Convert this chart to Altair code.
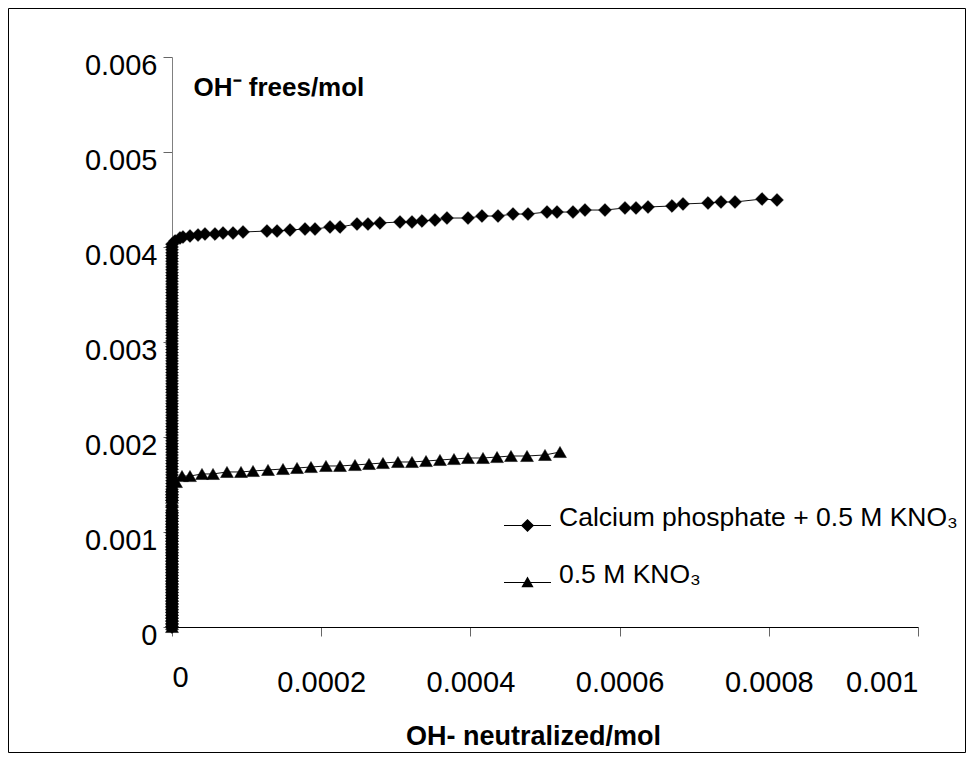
import altair as alt
import pandas as pd

S1 = "Calcium phosphate + 0.5 M KNO₃"
S2 = "0.5 M KNO₃"

# ---- Calcium phosphate + 0.5 M KNO3 (diamonds) ----
# dense vertical rise at x ~ 0 (y in units of 1e-5 mol)
cp_col_y_e5 = [0, 3, 6, 9, 12, 15, 18, 21, 24, 27, 30, 33, 36, 39, 42, 45, 48, 51,
               54, 57, 60, 63, 66, 69, 72, 75, 78, 81, 84, 87, 90, 93, 96, 99, 102,
               105, 108, 111, 114, 117, 120, 123, 126, 133, 136, 139, 142, 145, 148,
               151, 154, 157, 160, 163, 166, 169, 172, 175, 178, 181, 184, 187, 190,
               193, 196, 199, 202, 205, 208, 211, 214, 217, 220, 223, 226, 229, 232,
               235, 238, 241, 244, 247, 250, 253, 256, 259, 262, 265, 268, 271, 274,
               277, 280, 283, 286, 289, 292, 295, 298, 301, 304, 307, 310, 313, 316,
               319, 322, 325, 328, 331, 334, 337, 340, 343, 346, 349, 352, 355, 358,
               361, 364, 367, 370, 373, 376, 379, 382, 385, 388, 391, 394, 397, 400, 403]
# then the slowly increasing branch
cp_x = [0.0000040, 0.0000107, 0.0000147, 0.0000241, 0.0000349, 0.0000442, 0.0000576,
        0.0000684, 0.0000818, 0.0000952, 0.0001273, 0.0001408, 0.0001582, 0.0001783,
        0.0001917, 0.0002118, 0.0002252, 0.0002480, 0.0002627, 0.0002788, 0.0003056,
        0.0003217, 0.0003351, 0.0003525, 0.0003686, 0.0003968, 0.0004155, 0.0004370,
        0.0004571, 0.0004772, 0.0005027, 0.0005161, 0.0005375, 0.0005536, 0.0005804,
        0.0006072, 0.0006220, 0.0006381, 0.0006702, 0.0006850, 0.0007185, 0.0007359,
        0.0007547, 0.0007909, 0.0008110]
cp_y = [0.004063, 0.004095, 0.004105, 0.004116, 0.004126, 0.004137, 0.004137,
        0.004147, 0.004147, 0.004158, 0.004168, 0.004168, 0.004179, 0.004189,
        0.004189, 0.004211, 0.004211, 0.004242, 0.004242, 0.004253, 0.004263,
        0.004263, 0.004274, 0.004284, 0.004305, 0.004305, 0.004326, 0.004326,
        0.004347, 0.004347, 0.004368, 0.004368, 0.004368, 0.004389, 0.004389,
        0.004411, 0.004411, 0.004421, 0.004432, 0.004453, 0.004463, 0.004474,
        0.004474, 0.004505, 0.004495]

# ---- 0.5 M KNO3 (triangles) ----
kn_col_y_e5 = [0, 3, 6, 9, 12, 15, 18, 21, 24, 27, 30, 33, 36, 39, 42, 45, 48, 51,
               54, 57, 60, 63, 66, 69, 72, 75, 78, 81, 84, 87, 90, 93, 96, 99, 102,
               105, 108, 111, 114, 117, 120, 123, 126, 133, 136, 139, 142, 145, 148]
kn_x = [0.0000054, 0.0000134, 0.0000241, 0.0000402, 0.0000550, 0.0000737,
        0.0000925, 0.0001086, 0.0001287, 0.0001488, 0.0001676, 0.0001863,
        0.0002064, 0.0002252, 0.0002453, 0.0002641, 0.0002828, 0.0003029,
        0.0003217, 0.0003405, 0.0003592, 0.0003780, 0.0003968, 0.0004169,
        0.0004357, 0.0004544, 0.0004759, 0.0005000, 0.0005201]
kn_y = [0.001526, 0.001589, 0.001589, 0.001611, 0.001611, 0.001632, 0.001632,
        0.001642, 0.001653, 0.001663, 0.001674, 0.001684, 0.001695, 0.001695,
        0.001705, 0.001716, 0.001726, 0.001737, 0.001737, 0.001747, 0.001758,
        0.001768, 0.001779, 0.001779, 0.001789, 0.0018, 0.0018, 0.001811,
        0.001842]

x_ticks = [0, 0.0002, 0.0004, 0.0006, 0.0008, 0.001]
y_ticks = [0, 0.001, 0.002, 0.003, 0.004, 0.005, 0.006]

X_TITLE = "OH- neutralized/mol"
Y_TITLE = "OH⁻ frees/mol"

rows = []
i = 0
for v in cp_col_y_e5:
    rows.append({"series": S1, "idx": i, "x": 0.0, "y": v * 1e-5}); i += 1
for a, b in zip(cp_x, cp_y):
    rows.append({"series": S1, "idx": i, "x": a, "y": b}); i += 1
i = 0
for v in kn_col_y_e5:
    rows.append({"series": S2, "idx": i, "x": 0.0, "y": v * 1e-5}); i += 1
for a, b in zip(kn_x, kn_y):
    rows.append({"series": S2, "idx": i, "x": a, "y": b}); i += 1
df = pd.DataFrame(rows)

FONT = "Liberation Sans"
W, H = 746, 570
PAD_R, PAD_B = 48, 126

xenc = alt.X("x:Q", scale=alt.Scale(domain=[0, 0.001], nice=False, zero=False),
             axis=alt.Axis(values=x_ticks, format="~g", title=X_TITLE,
                           titleX=361, titleY=117, titleAlign="center",
                           titleBaseline="alphabetic", titleFontSize=27,
                           titleFontWeight="bold", titleFont=FONT, titleColor="#000",
                           labelFontSize=29, labelFont=FONT, labelColor="#000",
                           tickSize=9, tickColor="#666", domainColor="#000",
                           labelPadding={"condition": {"test": "datum.value == 0", "value": 27}, "value": 32},
                           grid=False))
yenc = alt.Y("y:Q", scale=alt.Scale(domain=[0, 0.006], nice=False, zero=False),
             axis=alt.Axis(values=y_ticks, format="~g", title=Y_TITLE,
                           titleAngle=0, titleX=21, titleY=38, titleAlign="left",
                           titleBaseline="alphabetic", titleFontSize=26,
                           titleFontWeight="bold", titleFont=FONT, titleColor="#000",
                           labelFontSize=29, labelFont=FONT, labelColor="#000",
                           labelOffset=8,
                           tickSize=9, tickColor="#666", domainColor="#808080",
                           labelPadding=6, grid=False))

base = alt.Chart(df)

line = base.mark_line(color="#111", strokeWidth=1).encode(
    x=xenc, y=yenc, detail="series:N", order="idx:Q")

points = base.mark_point(filled=True, fill="#000", stroke="#000", strokeWidth=0.5,
                         opacity=1, size=165).encode(
    x=xenc, y=yenc,
    shape=alt.Shape("series:N",
                    scale=alt.Scale(domain=[S1, S2], range=["diamond", "triangle-up"]),
                    legend=None))

# legend symbols: a short line with the marker in the middle
P1 = "M-1,-0.022L1,-0.022L1,0.022L-1,0.022ZM-0.28,0L0,-0.28L0.28,0L0,0.28Z"
P2 = "M-1,-0.022L1,-0.022L1,0.022L-1,0.022ZM0,-0.26L0.26,0.2L-0.26,0.2Z"

legend_layer = base.transform_filter("datum.idx < 0").mark_point(
    filled=True, fill="#000", stroke="#000", strokeWidth=0, opacity=1, size=2209).encode(
    x=xenc, y=yenc,
    shape=alt.Shape("series:N",
                    scale=alt.Scale(domain=[S1, S2], range=[P1, P2]),
                    legend=alt.Legend(orient="none", legendX=332, legendY=445,
                                      title=None, labelFont=FONT, labelFontSize=26.5,
                                      labelColor="#000", labelLimit=800,
                                      labelBaseline="alphabetic",
                                      symbolSize=2209, symbolStrokeWidth=0,
                                      symbolFillColor="#000", symbolStrokeColor="#000",
                                      symbolOpacity=1, rowPadding=26, labelOffset=8,
                                      padding=0)))

frame = alt.Chart(pd.DataFrame({"k": [0]})).mark_rect(
    fillOpacity=0, stroke="#000", strokeWidth=1).encode(
    x=alt.value(-163.5), x2=alt.value(W + PAD_R - 0.5),
    y=alt.value(-48.5), y2=alt.value(H + PAD_B - 0.5))

chart = alt.layer(frame, line, points, legend_layer).resolve_scale(
    shape="independent").properties(
    width=W, height=H,
    autosize=alt.AutoSizeParams(type="none"),
    padding={"left": 164, "top": 49, "right": PAD_R, "bottom": PAD_B},
    background="white",
).configure_view(stroke=None)

chart.save("out.html", embed_options={"renderer": "svg", "actions": False})
